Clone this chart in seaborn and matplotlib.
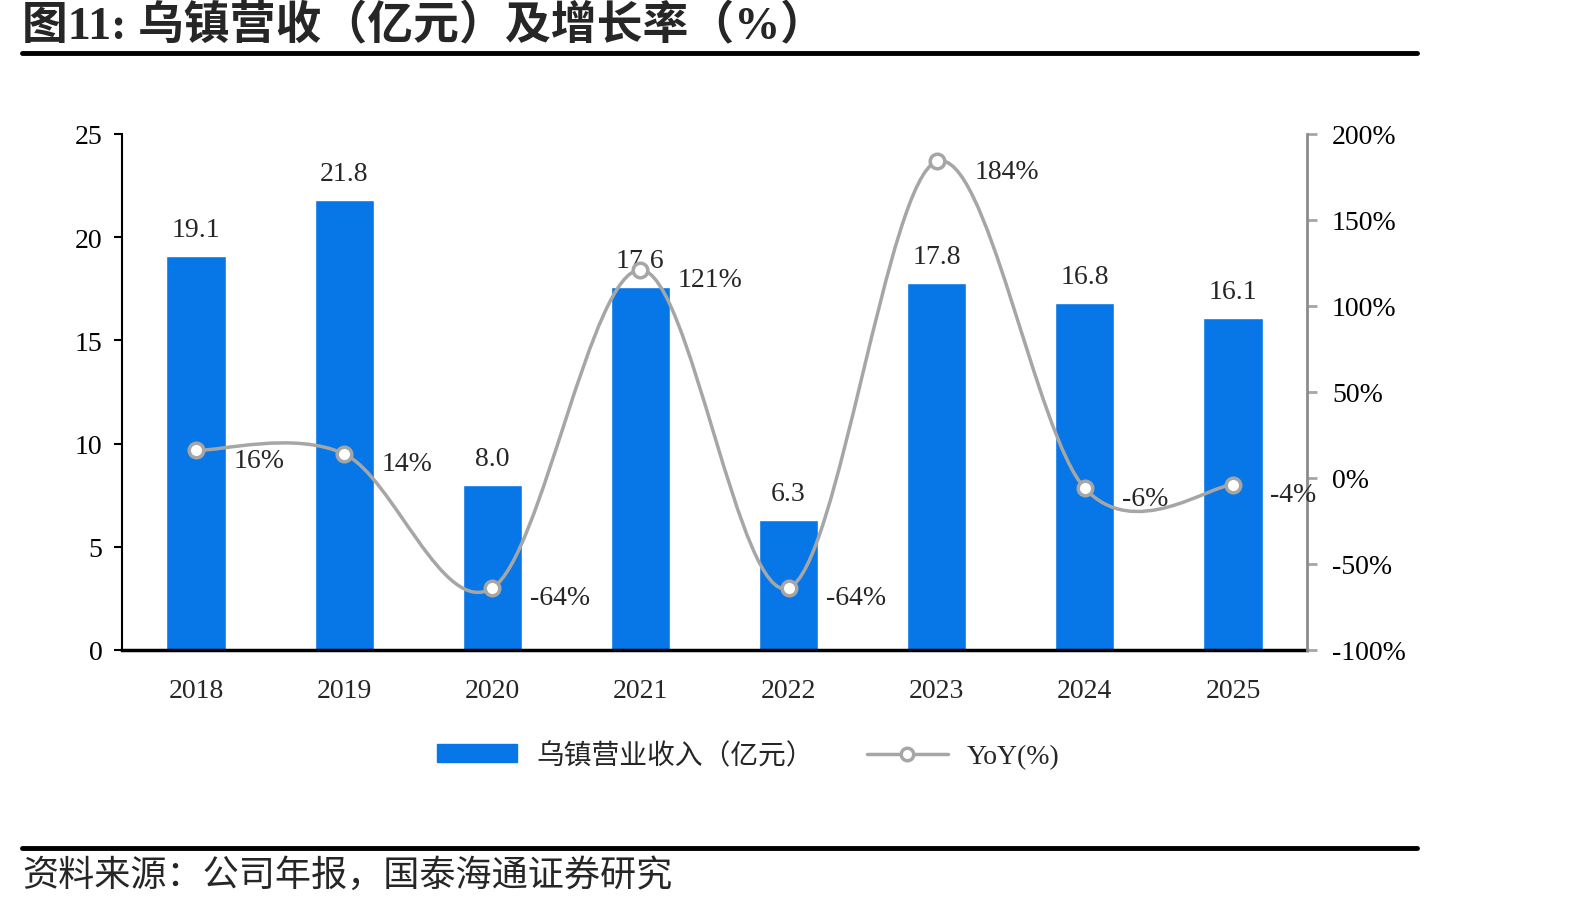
import matplotlib
matplotlib.use('Agg')
import matplotlib.pyplot as plt
import seaborn as sns
import numpy as np
import pandas as pd
from matplotlib.path import Path
from matplotlib.patches import PathPatch, Patch
from matplotlib.lines import Line2D
from matplotlib.ticker import FixedLocator, FuncFormatter

# 数据
years = ['2018', '2019', '2020', '2021', '2022', '2023', '2024', '2025']
revenue = [19.1, 21.8, 8.0, 17.6, 6.3, 17.8, 16.8, 16.1]
yoy = [16, 14, -64, 121, -64, 184, -6, -4]
yoy_labels = ['16%', '14%', '-64%', '121%', '-64%', '184%', '-6%', '-4%']

BLUE = '#0776E6'
GREY = '#A6A6A6'

sns.set_style('white')
plt.rcParams['font.family'] = ['Liberation Serif', 'Noto Sans CJK SC', 'DejaVu Sans']
plt.rcParams['axes.unicode_minus'] = False

df = pd.DataFrame({'year': years, 'revenue': revenue, 'yoy': yoy})

fig = plt.figure(figsize=(15.92, 9.04), dpi=100)
ax = fig.add_axes([0.0766, 0.2799, 0.7444, 0.5708])

sns.barplot(data=df, x='year', y='revenue', color=BLUE, saturation=1,
            width=0.4, ax=ax, zorder=2)
ax.set_xlim(-0.5, 7.5)
ax.set_ylim(0, 25)
ax.set_yticks([0, 5, 10, 15, 20, 25])
ax.set_xlabel('')
ax.set_ylabel('')
ax.tick_params(axis='y', direction='out', length=6, width=1.5, colors='black',
               labelsize=20, pad=8)
ax.tick_params(axis='x', which='major', length=0, labelsize=20, pad=20)
ax.xaxis.set_minor_locator(FixedLocator(np.arange(-0.5, 8, 1)))
ax.tick_params(axis='x', which='minor', direction='out', length=8, width=1.5,
               colors='black')
ax.spines['top'].set_visible(False)
ax.spines['left'].set_color('black')
ax.spines['left'].set_linewidth(1.5)
ax.spines['bottom'].set_color('black')
ax.spines['bottom'].set_linewidth(2.5)
ax.spines['right'].set_visible(False)

for i, v in enumerate(revenue):
    ax.annotate(f'{v:.1f}', (i, v), xytext=(0, 10), textcoords='offset points',
                ha='center', va='bottom', fontsize=20)

# 增长率（右轴）
ax2 = ax.twinx()
ax2.set_ylim(-100, 200)
ax2.set_yticks(range(-100, 201, 50))
ax2.yaxis.set_major_formatter(FuncFormatter(lambda v, p: f'{v:.0f}%'))
ax2.tick_params(axis='y', direction='out', length=7, width=2, colors=GREY,
                labelcolor='black', labelsize=20, pad=11)
for s in ['top', 'left', 'bottom']:
    ax2.spines[s].set_visible(False)
ax2.spines['right'].set_color('#8C8C8C')
ax2.spines['right'].set_linewidth(2)

# 平滑曲线（Bezier，控制点由数据点求得）
xs = np.arange(len(yoy), dtype=float)
ys = np.array(yoy, dtype=float)
pts = np.column_stack([xs, ys])
verts = [pts[0]]
codes = [Path.MOVETO]
n = len(pts)
for i in range(n - 1):
    p0 = pts[max(i - 1, 0)]
    p1 = pts[i]
    p2 = pts[i + 1]
    p3 = pts[min(i + 2, n - 1)]
    c1 = p1 + (p2 - p0) / 6.0
    c2 = p2 - (p3 - p1) / 6.0
    verts += [c1, c2, p2]
    codes += [Path.CURVE4] * 3
ax2.add_patch(PathPatch(Path(verts, codes), facecolor='none', edgecolor=GREY,
                        lw=2.5, zorder=3))
sns.scatterplot(x=xs, y=ys, ax=ax2, s=110, color='white', edgecolor=GREY,
                linewidth=2.5, zorder=4, legend=False)

for i, (v, lab) in enumerate(zip(yoy, yoy_labels)):
    ax2.annotate(lab, (i, v), xytext=(27, -7), textcoords='offset points',
                 ha='left', va='center', fontsize=20)

# 图例
handles = [Patch(facecolor=BLUE, edgecolor=BLUE),
           Line2D([0], [0], color=GREY, lw=2.5, marker='o', markersize=9,
                  markerfacecolor='white', markeredgecolor=GREY, markeredgewidth=2.5)]
fig.legend(handles, ['乌镇营业收入（亿元）', 'YoY(%)'], loc='center',
           bbox_to_anchor=(0.470, 0.163), ncol=2, frameon=False, fontsize=20,
           handlelength=2.9, handleheight=0.6, columnspacing=1.9, handletextpad=0.7)

# 标题与来源
fig.text(0.014, 0.971, '图11: 乌镇营收（亿元）及增长率（%）', fontsize=33,
         fontweight='bold', ha='left', va='center')
fig.add_artist(Line2D([0.014, 0.890], [0.940, 0.940], color='black', lw=3.5))
fig.add_artist(Line2D([0.014, 0.890], [0.061, 0.061], color='black', lw=3.5))
fig.text(0.014, 0.031, '资料来源：公司年报，国泰海通证券研究', fontsize=26,
         ha='left', va='center')

fig.savefig('out.png', dpi=100)
